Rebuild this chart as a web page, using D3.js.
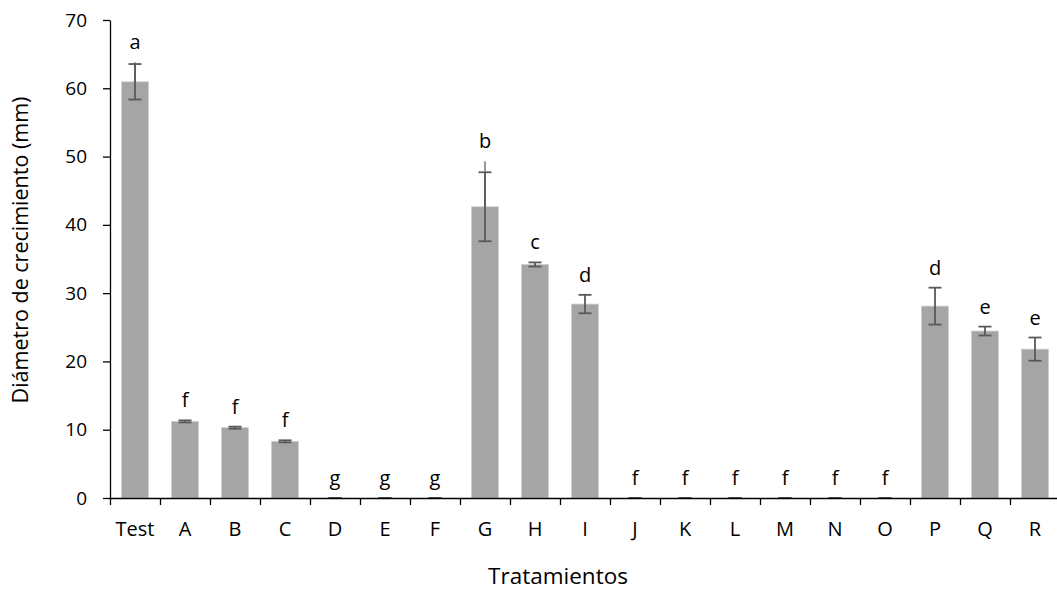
<!DOCTYPE html>
<html>
<head>
<meta charset="utf-8">
<script src="https://cdn.jsdelivr.net/npm/d3@7"></script>
<style>
  body { margin: 0; background: #fff; }
  svg text { font-family: "Open Sans", "Noto Sans", sans-serif; fill: #000; }
</style>
</head>
<body>
<div id="chart"></div>
<script>
// values
var categories = ["Test", "A", "B", "C", "D", "E", "F", "G", "H", "I",
                  "J", "K", "L", "M", "N", "O", "P", "Q", "R"];
var means  = [60.95, 11.22, 10.3, 8.3, 0, 0, 0, 42.65, 34.2, 28.4,
              0, 0, 0, 0, 0, 0, 28.1, 24.45, 21.8];
var errors = [2.6, 0.15, 0.15, 0.15, 0, 0, 0, 5.05, 0.3, 1.35,
              0, 0, 0, 0, 0, 0, 2.7, 0.65, 1.7];
// second (lighter) upper whisker seen on two bars
var upperErr = [2.85, 0, 0, 0, 0, 0, 0, 6.65, 0, 0,
                0, 0, 0, 0, 0, 0, 0, 0, 0];
var letters = ["a", "f", "f", "f", "g", "g", "g", "b", "c", "d",
               "f", "f", "f", "f", "f", "f", "d", "e", "e"];
var yTicks = [0, 10, 20, 30, 40, 50, 60, 70];

var width = 1057, height = 592;
var plotLeft = 110, plotRight = 1060, plotTop = 20, plotBottom = 498;

var svg = d3.select("#chart").append("svg")
    .attr("width", width)
    .attr("height", height);

var x = d3.scaleBand()
    .domain(categories)
    .range([plotLeft, plotRight])
    .paddingInner(0.46)
    .paddingOuter(0.23);

// boundaries between categories, for the tick marks
var xEdge = d3.scaleLinear()
    .domain([0, categories.length])
    .range([plotLeft, plotRight]);

var y = d3.scaleLinear()
    .domain([0, 70])
    .range([plotBottom, plotTop]);

var data = categories.map(function(c, i) {
  return { cat: c, mean: means[i], err: errors[i], up: upperErr[i], letter: letters[i] };
});

// bars
svg.selectAll(".bar")
    .data(data)
    .enter().append("rect")
    .attr("class", "bar")
    .attr("x", function(d) { return x(d.cat); })
    .attr("width", x.bandwidth())
    .attr("y", function(d) { return y(d.mean); })
    .attr("height", function(d) { return y(0) - y(d.mean); })
    .attr("fill", "#a5a5a5")
    .attr("stroke", "#cfcfcf")
    .attr("stroke-width", 0.8);

var cap = 6.5;
var errG = svg.append("g");

// lighter upper whisker
errG.selectAll(".up")
    .data(data.filter(function(d) { return d.up > 0; }))
    .enter().append("line")
    .attr("x1", function(d) { return x(d.cat) + x.bandwidth() / 2; })
    .attr("x2", function(d) { return x(d.cat) + x.bandwidth() / 2; })
    .attr("y1", function(d) { return y(d.mean); })
    .attr("y2", function(d) { return y(d.mean + d.up); })
    .attr("stroke", "#9a9a9a")
    .attr("stroke-width", 2);

var eb = errG.selectAll(".eb")
    .data(data)
    .enter().append("g")
    .attr("transform", function(d) { return "translate(" + (x(d.cat) + x.bandwidth() / 2) + ",0)"; });

eb.append("line")
    .attr("y1", function(d) { return y(d.mean - d.err); })
    .attr("y2", function(d) { return y(d.mean + d.err); })
    .attr("stroke", "#595959")
    .attr("stroke-width", 1.8);
eb.append("line")
    .attr("x1", -cap).attr("x2", cap)
    .attr("y1", function(d) { return y(d.mean + d.err); })
    .attr("y2", function(d) { return y(d.mean + d.err); })
    .attr("stroke", "#595959")
    .attr("stroke-width", 1.8);
eb.append("line")
    .attr("x1", -cap).attr("x2", cap)
    .attr("y1", function(d) { return y(d.mean - d.err); })
    .attr("y2", function(d) { return y(d.mean - d.err); })
    .attr("stroke", "#595959")
    .attr("stroke-width", 1.8);

// significance letters
svg.selectAll(".letter")
    .data(data)
    .enter().append("text")
    .attr("class", "letter")
    .attr("x", function(d) { return x(d.cat) + x.bandwidth() / 2; })
    .attr("y", function(d) { return y(d.mean + Math.max(d.err, d.up)) - 13; })
    .attr("text-anchor", "middle")
    .style("font-size", "20px")
    .text(function(d) { return d.letter; });

// y axis
var yAxis = svg.append("g")
    .attr("transform", "translate(" + plotLeft + ",0)")
    .call(d3.axisLeft(y).tickValues(yTicks).tickSize(7).tickSizeOuter(0).tickPadding(16));
yAxis.selectAll("text").style("font-size", "19px").attr("fill", "#000");
yAxis.selectAll("line, path").attr("stroke", "#000").attr("stroke-width", 1.3);

// x axis: tick marks on the category boundaries
var xTickAxis = svg.append("g")
    .attr("transform", "translate(0," + plotBottom + ")")
    .call(d3.axisBottom(xEdge).tickValues(d3.range(categories.length + 1))
          .tickFormat("").tickSize(7).tickSizeOuter(0));
xTickAxis.selectAll("line, path").attr("stroke", "#000").attr("stroke-width", 1.3);

// x axis: category labels
var xLab = svg.append("g")
    .attr("transform", "translate(0," + plotBottom + ")")
    .call(d3.axisBottom(x).tickSize(0).tickPadding(24));
xLab.select(".domain").remove();
xLab.selectAll("text").style("font-size", "20px").attr("fill", "#000");

// axis titles
svg.append("text")
    .attr("x", 558)
    .attr("y", 584)
    .attr("text-anchor", "middle")
    .style("font-size", "22.5px")
    .text("Tratamientos");

svg.append("text")
    .attr("transform", "translate(28,250) rotate(-90)")
    .attr("text-anchor", "middle")
    .style("font-size", "21.5px")
    .text("Diámetro de crecimiento (mm)");
</script>
</body>
</html>
